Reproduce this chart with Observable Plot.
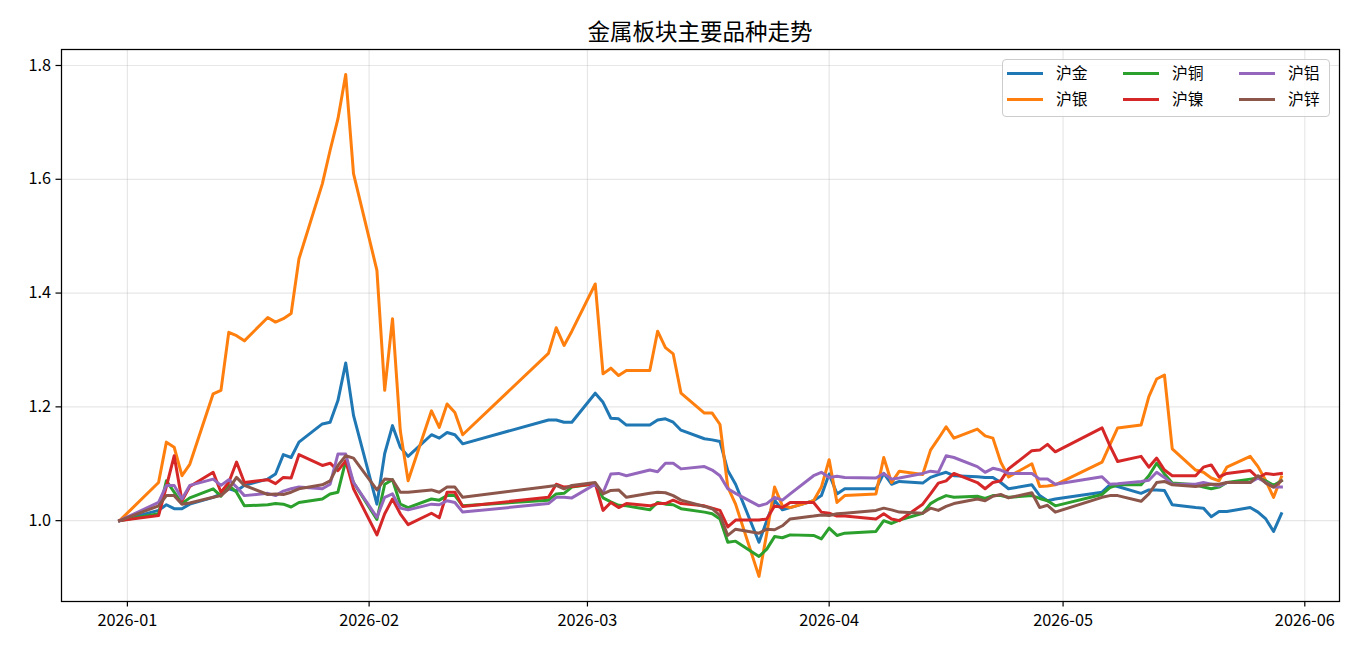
<!DOCTYPE html>
<html>
<head>
<meta charset="utf-8">
<script src="https://cdn.jsdelivr.net/npm/d3@7"></script>
<script src="https://cdn.jsdelivr.net/npm/@observablehq/plot@0.6"></script>
<style>
  html, body { margin: 0; padding: 0; background: #fff; }
  #wrap { position: relative; width: 1368px; height: 657px; font-family: "Noto Sans CJK SC", "Noto Sans", sans-serif; }
  #title { position: absolute; left: 61px; width: 1278px; top: 15px; text-align: center; font-size: 22.5px; line-height: 30px; color: #000; }
  #legend { position: absolute; left: 1002px; top: 59px; width: 326px; height: 56px; border: 1px solid #cccccc; border-radius: 4px; background: rgba(255,255,255,0.85); }
  .item { position: absolute; height: 20px; font-size: 15.8px; line-height: 20px; color: #000; white-space: nowrap; }
  .item .sw { position: absolute; left: 0; top: 8.5px; width: 36px; height: 3px; }
  .item .lb { position: absolute; left: 49px; top: -1px; }
</style>
</head>
<body>
<div id="wrap">
  <div id="chart"></div>
  <div id="title">金属板块主要品种走势</div>
  <div id="legend"></div>
</div>
<script>
// ---------- data ----------
const dates = [
  "2025-12-31",
  "2026-01-05","2026-01-06","2026-01-07","2026-01-08","2026-01-09",
  "2026-01-12","2026-01-13","2026-01-14","2026-01-15","2026-01-16",
  "2026-01-19","2026-01-20","2026-01-21","2026-01-22","2026-01-23",
  "2026-01-26","2026-01-27","2026-01-28","2026-01-29","2026-01-30",
  "2026-02-02","2026-02-03","2026-02-04","2026-02-05","2026-02-06",
  "2026-02-09","2026-02-10","2026-02-11","2026-02-12","2026-02-13",
  "2026-02-24","2026-02-25","2026-02-26","2026-02-27",
  "2026-03-02","2026-03-03","2026-03-04","2026-03-05","2026-03-06",
  "2026-03-09","2026-03-10","2026-03-11","2026-03-12","2026-03-13",
  "2026-03-16","2026-03-17","2026-03-18","2026-03-19","2026-03-20",
  "2026-03-23","2026-03-24","2026-03-25","2026-03-26","2026-03-27",
  "2026-03-30","2026-03-31",
  "2026-04-01","2026-04-02","2026-04-03",
  "2026-04-07","2026-04-08","2026-04-09","2026-04-10",
  "2026-04-13","2026-04-14","2026-04-15","2026-04-16","2026-04-17",
  "2026-04-20","2026-04-21","2026-04-22","2026-04-23","2026-04-24",
  "2026-04-27","2026-04-28","2026-04-29","2026-04-30",
  "2026-05-06","2026-05-07","2026-05-08",
  "2026-05-11","2026-05-12","2026-05-13","2026-05-14","2026-05-15",
  "2026-05-18","2026-05-19","2026-05-20","2026-05-21","2026-05-22",
  "2026-05-25","2026-05-26","2026-05-27","2026-05-28","2026-05-29"
];

const gold = [
  1.000,
  1.018,1.028,1.021,1.021,1.029, 1.041,1.047,1.056,1.052,1.062, 1.073,1.082,1.116,1.111,1.138, 1.170,1.173,1.211,1.277,1.185,
  1.029,1.118,1.167,1.129,1.113, 1.151,1.145,1.155,1.151,1.135,
  1.177,1.177,1.173,1.173,
  1.224,1.208,1.180,1.179,1.168, 1.168,1.177,1.179,1.173,1.159, 1.144,1.142,1.139,1.088,1.064, 0.962,1.000,1.036,1.019,1.023, 1.035,1.044,
  1.082,1.047,1.056, 1.056,1.083,1.064,1.069, 1.066,1.076,1.081,1.085,1.079, 1.077,1.076,1.076,1.067,1.056, 1.063,1.044,1.035,1.038,
  1.050,1.063,1.060, 1.048,1.054,1.054,1.053,1.028, 1.023,1.022,1.007,1.016,1.016, 1.023,1.015,1.003,0.981,1.012
];
const silver = [
  1.000,
  1.067,1.138,1.129,1.079,1.099, 1.223,1.229,1.331,1.325,1.316, 1.357,1.349,1.355,1.364,1.460, 1.592,1.651,1.706,1.784,1.610,
  1.440,1.229,1.355,1.158,1.070, 1.193,1.164,1.205,1.190,1.151,
  1.294,1.339,1.308,1.333,
  1.416,1.258,1.268,1.255,1.264, 1.264,1.333,1.304,1.293,1.224, 1.189,1.189,1.169,1.059,1.029, 0.902,0.978,1.059,1.026,1.023, 1.035,1.059,
  1.107,1.032,1.044, 1.047,1.111,1.067,1.087, 1.081,1.124,1.144,1.165,1.145, 1.161,1.149,1.145,1.103,1.077, 1.100,1.060,1.061,1.063,
  1.103,1.133,1.163, 1.168,1.218,1.249,1.256,1.126, 1.089,1.085,1.075,1.070,1.094, 1.113,1.095,1.070,1.041,1.077
];
const copper = [
  1.000,
  1.012,1.070,1.050,1.030,1.040, 1.056,1.043,1.062,1.050,1.026, 1.028,1.030,1.029,1.024,1.032, 1.038,1.047,1.050,1.105,1.067,
  1.002,1.064,1.072,1.029,1.023, 1.038,1.036,1.044,1.044,1.026,
  1.036,1.047,1.048,1.059,
  1.065,1.040,1.033,1.027,1.026, 1.019,1.032,1.029,1.028,1.021, 1.015,1.012,1.003,0.962,0.964, 0.937,0.950,0.972,0.970,0.975, 0.974,0.968,
  0.987,0.974,0.978, 0.981,1.000,0.995,1.001, 1.013,1.030,1.038,1.044,1.041, 1.043,1.039,1.044,1.044,1.041, 1.044,1.039,1.035,1.026,
  1.046,1.058,1.063, 1.063,1.079,1.101,1.082,1.066, 1.063,1.059,1.056,1.059,1.067, 1.073,1.075,1.070,1.062,1.070
];
const nickel = [
  1.000,
  1.009,1.060,1.114,1.035,1.060, 1.085,1.050,1.067,1.103,1.067, 1.072,1.065,1.076,1.075,1.116, 1.097,1.101,1.088,1.105,1.056,
  0.975,1.012,1.038,1.012,0.993, 1.013,1.005,1.050,1.050,1.025,
  1.041,1.064,1.059,1.060,
  1.065,1.018,1.032,1.023,1.030, 1.026,1.030,1.030,1.036,1.030, 1.026,1.022,1.018,0.989,1.001, 1.001,1.003,1.026,1.023,1.032, 1.032,1.015,
  1.013,1.008,1.008, 1.003,1.012,1.003,1.000, 1.029,1.047,1.066,1.070,1.083, 1.067,1.056,1.067,1.070,1.091, 1.123,1.124,1.134,1.121,
  1.163,1.132,1.104, 1.113,1.094,1.110,1.089,1.079, 1.079,1.094,1.098,1.077,1.083, 1.088,1.075,1.083,1.081,1.083
];
const aluminium = [
  1.000,
  1.032,1.062,1.062,1.038,1.062, 1.073,1.062,1.072,1.059,1.044, 1.048,1.044,1.052,1.056,1.059, 1.056,1.064,1.117,1.117,1.067,
  1.006,1.041,1.047,1.022,1.019, 1.029,1.028,1.035,1.032,1.015,
  1.030,1.041,1.041,1.040,
  1.064,1.049,1.082,1.083,1.079, 1.089,1.086,1.101,1.101,1.091, 1.095,1.089,1.079,1.056,1.048, 1.026,1.030,1.041,1.036,1.047, 1.079,1.085,
  1.076,1.078,1.076, 1.075,1.083,1.073,1.075, 1.083,1.087,1.085,1.114,1.111, 1.095,1.085,1.092,1.089,1.083, 1.083,1.073,1.073,1.064,
  1.077,1.064,1.065, 1.069,1.071,1.085,1.076,1.064, 1.064,1.067,1.064,1.061,1.067, 1.067,1.075,1.067,1.059,1.059
];
const zinc = [
  1.000,
  1.026,1.044,1.044,1.029,1.031, 1.041,1.044,1.056,1.076,1.062, 1.046,1.047,1.046,1.050,1.056, 1.063,1.070,1.097,1.114,1.110,
  1.054,1.073,1.072,1.050,1.050, 1.054,1.050,1.059,1.059,1.041,
  1.060,1.062,1.056,1.062,
  1.067,1.047,1.053,1.054,1.041, 1.048,1.050,1.049,1.044,1.036, 1.025,1.021,1.009,0.974,0.985, 0.978,0.985,0.984,0.991,1.003, 1.008,1.010,
  1.009,1.012,1.013, 1.018,1.022,1.019,1.015, 1.013,1.022,1.018,1.025,1.030, 1.038,1.035,1.043,1.046,1.040, 1.049,1.023,1.027,1.015,
  1.041,1.044,1.044, 1.034,1.047,1.067,1.069,1.063, 1.060,1.062,1.064,1.064,1.067, 1.067,1.079,1.066,1.059,1.070
];

const seriesNames = ["沪金", "沪银", "沪铜", "沪镍", "沪铝", "沪锌"];
const seriesValues = [gold, silver, copper, nickel, aluminium, zinc];
const seriesColors = ["#1f77b4", "#ff7f0e", "#2ca02c", "#d62728", "#9467bd", "#8c564b"];
const yTickValues = [1.0, 1.2, 1.4, 1.6, 1.8];
const xTickLabels = ["2026-01", "2026-02", "2026-03", "2026-04", "2026-05", "2026-06"];

// ---------- build ----------
const parsed = dates.map(d => new Date(d + "T00:00:00Z"));
const rows = [];
seriesNames.forEach((name, si) => {
  seriesValues[si].forEach((v, i) => rows.push({date: parsed[i], value: v, series: name}));
});

const [x0, x1] = d3.extent(parsed);
const xPad = (x1 - x0) * 0.05;
const allVals = seriesValues.flat();
const [y0, y1] = d3.extent(allVals);
const yPad = (y1 - y0) * 0.05;
const xTicks = xTickLabels.map(s => new Date(s + "-01T00:00:00Z"));

const W = 1368, H = 657;
const chart = Plot.plot({
  width: W,
  height: H,
  marginLeft: 61,
  marginRight: 29,
  marginTop: 49,
  marginBottom: 56,
  style: {fontFamily: "'Noto Sans CJK SC', 'Noto Sans', sans-serif", fontSize: "16.3px", color: "#000", background: "transparent", overflow: "visible"},
  x: {type: "utc", domain: [new Date(+x0 - xPad), new Date(+x1 + xPad)]},
  y: {domain: [y0 - yPad, y1 + yPad]},
  marks: [
    Plot.gridX(xTicks, {stroke: "#b0b0b0", strokeOpacity: 0.3, strokeWidth: 1.2}),
    Plot.gridY(yTickValues, {stroke: "#b0b0b0", strokeOpacity: 0.3, strokeWidth: 1.2}),
    ...seriesNames.map((name, si) =>
      Plot.line(rows.filter(r => r.series === name), {
        x: "date", y: "value", stroke: seriesColors[si], strokeWidth: 3,
        strokeLinejoin: "round", strokeLinecap: "square"
      })
    ),
    Plot.frame({stroke: "#000", strokeWidth: 1.25}),
    Plot.axisX(xTicks, {tickFormat: d3.utcFormat("%Y-%m"), tickSize: 5.5, tickPadding: 7, strokeWidth: 1.2, label: null, fontSize: 16.3}),
    Plot.axisY(yTickValues, {tickFormat: d3.format(".1f"), tickSize: 5.5, tickPadding: 5, strokeWidth: 1.2, label: null, fontSize: 16.3})
  ]
});
document.getElementById("chart").appendChild(chart);

// legend (3 columns, column-major)
const legend = document.getElementById("legend");
const colX = [4, 120, 236];
const rowY = [3.5, 29.5];
seriesNames.forEach((name, i) => {
  const col = Math.floor(i / 2), row = i % 2;
  const it = document.createElement("div");
  it.className = "item";
  it.style.left = colX[col] + "px";
  it.style.top = rowY[row] + "px";
  it.innerHTML = `<span class="sw" style="background:${seriesColors[i]}"></span><span class="lb">${name}</span>`;
  legend.appendChild(it);
});
</script>
</body>
</html>
